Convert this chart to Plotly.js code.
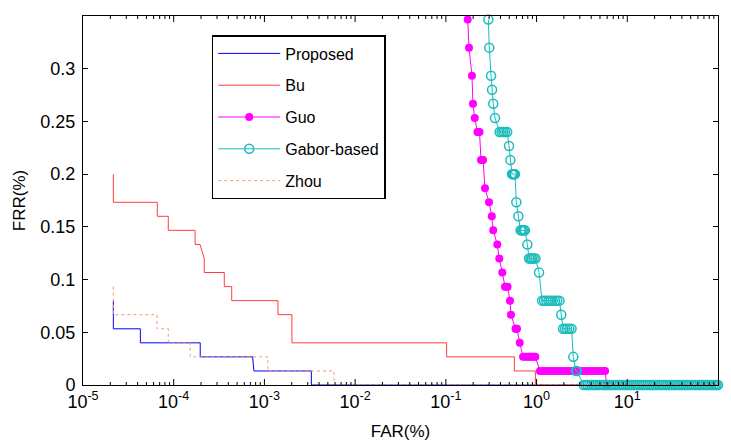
<!DOCTYPE html>
<html>
<head>
<meta charset="utf-8">
<script src="https://cdn.plot.ly/plotly-3.0.1.min.js"></script>
<style>html,body{margin:0;padding:0;background:#fff;}#chart{width:731px;height:441px;}</style>
</head>
<body>
<div id="chart"></div>
<script>
// Proposed
const propFAR = [2.16e-5, 2.16e-5, 4.29e-5, 4.29e-5, 1.96e-4, 1.96e-4, 7.41e-4, 7.66e-4, 3.29e-3, 3.29e-3, 100];
const propFRR = [0.08, 0.0533, 0.0533, 0.04, 0.04, 0.0267, 0.0267, 0.0133, 0.0133, 0, 0];
// Bu
const buFAR = [2.16e-5, 2.16e-5, 6.59e-5, 6.59e-5, 8.71e-5, 8.71e-5, 1.72e-4, 1.72e-4, 1.95e-4, 2.17e-4, 2.17e-4, 3.61e-4, 3.61e-4, 4.36e-4, 4.36e-4, 1.41e-3, 1.41e-3, 2.01e-3, 2.01e-3, 0.102, 0.102, 0.569, 0.569, 0.97, 0.97, 100];
const buFRR = [0.2, 0.1733, 0.1733, 0.16, 0.16, 0.1467, 0.1467, 0.1333, 0.1333, 0.12, 0.1067, 0.1067, 0.0933, 0.0933, 0.08, 0.08, 0.0667, 0.0667, 0.04, 0.04, 0.0267, 0.0267, 0.0133, 0.0133, 0, 0];
// Guo
const guoFAR = [0.174, 0.180, 0.194, 0.199, 0.208, 0.223, 0.229, 0.235, 0.244, 0.250, 0.257, 0.270, 0.299, 0.321, 0.333, 0.369, 0.388, 0.419, 0.449, 0.464, 0.479, 0.509, 0.522, 0.586, 0.597, 0.609, 0.652,
  0.710, 0.745, 0.78, 0.82, 0.86, 0.90, 0.94, 0.968,
  1.09, 1.16, 1.25, 1.35, 1.46, 1.58, 1.70, 1.85, 1.98, 2.15, 2.30, 2.50, 2.68, 2.90, 3.12, 3.38, 3.63, 3.93, 4.22, 4.57, 4.91, 5.30, 5.69, 5.93];
const guoFRR = [0.3467, 0.32, 0.2933, 0.2667, 0.2533, 0.24, 0.24, 0.24, 0.2133, 0.2133, 0.2133, 0.1867, 0.1733, 0.16, 0.1467, 0.1333, 0.12, 0.1067, 0.0933, 0.0933, 0.0933, 0.08, 0.0667, 0.0533, 0.0533, 0.0533, 0.04,
  0.0267, 0.0267, 0.0267, 0.0267, 0.0267, 0.0267, 0.0267, 0.0267,
  0.0133, 0.0133, 0.0133, 0.0133, 0.0133, 0.0133, 0.0133, 0.0133, 0.0133, 0.0133, 0.0133, 0.0133, 0.0133, 0.0133, 0.0133, 0.0133, 0.0133, 0.0133, 0.0133, 0.0133, 0.0133, 0.0133, 0.0133, 0];
// Gabor-based
const gabFAR = [0.294, 0.301, 0.315, 0.323, 0.333, 0.348, 0.391, 0.41, 0.43, 0.45, 0.474, 0.497, 0.514, 0.536, 0.547, 0.557, 0.568, 0.578, 0.598, 0.630, 0.665, 0.685, 0.705, 0.725, 0.746, 0.791, 0.826, 0.86, 0.89, 0.93, 0.973, 1.064,
  1.15, 1.21, 1.28, 1.35, 1.42, 1.51, 1.60, 1.69, 1.79, 1.87, 1.96, 2.06, 2.17, 2.30, 2.43, 2.54, 2.72, 2.78,
  3.3, 3.47, 3.65, 3.84, 4.04, 4.25, 4.47, 4.7, 4.95, 5.2, 5.47, 5.76, 6.06, 6.37, 6.7, 7.05, 7.42, 7.8, 8.21, 8.64, 9.09, 9.56, 10.1, 10.6, 11.1, 11.7, 12.3, 12.9, 13.6, 14.3, 15.1, 15.9, 16.7, 17.6, 18.5, 19.4, 20.4, 21.5, 22.6, 23.8, 25, 26.3, 27.7, 29.1, 30.6, 32.2, 33.9, 35.7, 37.5, 39.5, 41.5, 43.7, 46, 48.4, 50.9, 53.5, 56.3, 59.2, 62.3, 65.6, 69, 72.6, 76.3, 80.3, 84.5, 88.9, 93.5, 96.5, 100];
const gabFRR = [0.3467, 0.32, 0.2933, 0.28, 0.2667, 0.2533, 0.24, 0.24, 0.24, 0.24, 0.24, 0.2267, 0.2133, 0.2, 0.2, 0.2, 0.2, 0.2, 0.1733, 0.16, 0.1467, 0.1467, 0.1467, 0.1467, 0.1467, 0.1333, 0.12, 0.12, 0.12, 0.12, 0.12, 0.1067,
  0.08, 0.08, 0.08, 0.08, 0.08, 0.08, 0.08, 0.08, 0.08, 0.0667, 0.0533, 0.0533, 0.0533, 0.0533, 0.0533, 0.0267, 0.0133, 0.0133,
  0, 0, 0, 0, 0, 0, 0, 0, 0, 0, 0, 0, 0, 0, 0, 0, 0, 0, 0, 0, 0, 0, 0, 0, 0, 0, 0, 0, 0, 0, 0, 0, 0, 0, 0, 0, 0, 0, 0, 0, 0, 0, 0, 0, 0, 0, 0, 0, 0, 0, 0, 0, 0, 0, 0, 0, 0, 0, 0, 0, 0, 0, 0, 0, 0, 0, 0, 0, 0];
// Zhou
const zhouFAR = [2.16e-5, 2.16e-5, 6.55e-5, 6.55e-5, 8.71e-5, 8.71e-5, 1.52e-4, 1.52e-4, 1.09e-3, 1.09e-3, 5.85e-3, 5.85e-3, 100];
const zhouFRR = [0.0933, 0.0667, 0.0667, 0.0533, 0.0533, 0.04, 0.04, 0.0267, 0.0267, 0.0133, 0.0133, 0, 0];

const seriesNames = ["Proposed", "Bu", "Guo", "Gabor-based", "Zhou"];
const xTickVals = [1e-5, 1e-4, 1e-3, 1e-2, 1e-1, 1, 10, 100];
const xTickText = ["10<sup>-5</sup>", "10<sup>-4</sup>", "10<sup>-3</sup>", "10<sup>-2</sup>", "10<sup>-1</sup>", "10<sup>0</sup>", "10<sup>1</sup>", "10<sup>2</sup>"];
const yTickVals = [0, 0.05, 0.1, 0.15, 0.2, 0.25, 0.3];
const yTickText = ["0", "0.05", "0.1", "0.15", "0.2", "0.25", "0.3"];

// minor tick positions (2..9 in every decade)
const xMinorVals = [];
for (let e = -5; e < 2; e++) for (let m = 2; m <= 9; m++) xMinorVals.push(m * Math.pow(10, e));

const FONT = "Liberation Sans, Arial, Helvetica, sans-serif";
const PLOT_H = 441 - 16 - 56;

// inside tick marks on bottom and top edges, placed through the x scale
const tickShapes = [];
function addTicks(vals, len) {
  const f = len / PLOT_H;
  vals.forEach(v => {
    tickShapes.push({type: "line", xref: "x", yref: "paper", x0: v, x1: v, y0: 0, y1: f, line: {color: "#000", width: 1}, layer: "above"});
    tickShapes.push({type: "line", xref: "x", yref: "paper", x0: v, x1: v, y0: 1, y1: 1 - f, line: {color: "#000", width: 1}, layer: "above"});
  });
}
addTicks(xTickVals.slice(1, -1), 6);
addTicks(xMinorVals, 3);

const traces = [
  {x: propFAR, y: propFRR, name: seriesNames[0], legendgroup: "a", mode: "lines",
   line: {color: "#0000ff", width: 1}},
  {x: buFAR, y: buFRR, name: seriesNames[1], legendgroup: "b", mode: "lines",
   line: {color: "#ff3c3c", width: 1}},
  {x: guoFAR, y: guoFRR, name: seriesNames[2], legendgroup: "c", mode: "lines+markers", cliponaxis: false,
   line: {color: "#ff00ff", width: 1}, marker: {symbol: "circle", size: 8, color: "#ff00ff"}},
  {x: gabFAR, y: gabFRR, name: seriesNames[3], legendgroup: "d", mode: "lines+markers", cliponaxis: false,
   line: {color: "#1bbcbc", width: 1}, marker: {symbol: "circle-open", size: 9, color: "#1bbcbc", line: {width: 1.5}}},
  {x: zhouFAR, y: zhouFRR, name: seriesNames[4], legendgroup: "e", mode: "lines",
   line: {color: "#f29a6b", width: 1, dash: "dot"}}
];

const layout = {
  width: 731, height: 441,
  margin: {l: 83, r: 13, t: 16, b: 56},
  paper_bgcolor: "#fff", plot_bgcolor: "#fff",
  font: {family: FONT, size: 18, color: "#000"},
  showlegend: true,
  legend: {
    x: 0.2027, y: 0.9485, xanchor: "left", yanchor: "top",
    bgcolor: "#fff", bordercolor: "#000", borderwidth: 1.5,
    font: {family: FONT, size: 16, color: "#000"},
    traceorder: "grouped", tracegroupgap: 8, itemwidth: 62
  },
  shapes: tickShapes,
  xaxis: {
    type: "log", range: [-5, 2],
    tickmode: "array", tickvals: xTickVals, ticktext: xTickText,
    ticks: "",
    showline: true, linecolor: "#000", linewidth: 1, mirror: true,
    showgrid: false, zeroline: false,
    tickfont: {family: FONT, size: 18},
    title: {text: "FAR(%)", font: {family: FONT, size: 17}, standoff: 18}
  },
  yaxis: {
    range: [0, 0.35],
    tickmode: "array", tickvals: yTickVals, ticktext: yTickText,
    ticks: "inside", ticklen: 5, tickcolor: "#000",
    showline: true, linecolor: "#000", linewidth: 1, mirror: "ticks",
    showgrid: false, zeroline: false,
    tickfont: {family: FONT, size: 18},
    ticklabelstandoff: 3,
    title: {text: "FRR(%)", font: {family: FONT, size: 17}, standoff: 10}
  }
};

Plotly.newPlot("chart", traces, layout, {displayModeBar: false, staticPlot: true});
</script>
</body>
</html>
